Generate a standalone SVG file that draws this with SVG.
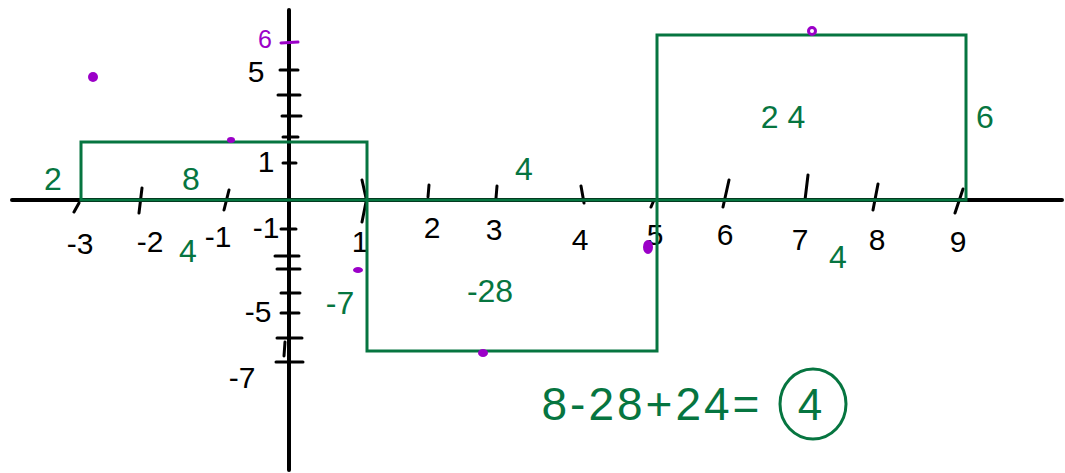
<svg xmlns="http://www.w3.org/2000/svg" width="1065" height="473" viewBox="0 0 1065 473">
<style>
.ax{stroke:#000;stroke-width:4;fill:none;stroke-linecap:round}
.tk{stroke:#000;stroke-width:3;fill:none;stroke-linecap:round}
.gr{stroke:#067540;stroke-width:3;fill:none}
.bl{font-family:"Liberation Sans",Arial,sans-serif;font-size:30px;fill:#000;text-anchor:middle}
.gt{font-family:"Liberation Sans",Arial,sans-serif;font-size:32px;fill:#067540;text-anchor:middle}
.pu{fill:#9b00c8}
</style>
<rect width="1065" height="473" fill="#fff"/>
<g id="axes">
<line class="ax" x1="12" y1="200" x2="1062" y2="200"/>
<line class="ax" x1="289" y1="10" x2="289" y2="470"/>
</g>
<g id="x-ticks">
<path class="tk" d="M79 203 L74 212 M142 188 L139 213 M229 190 L224 210 M362 180 L366 198 M366 202 L362 222 M429 185 L428 197 M497 186 L496 198 M581 186 L584 203 M654 200 L651 207 M729 180 L723 207 M808 175 L805 200 M878 184 L873 210 M963 189 L955 213"/>
</g>
<g id="y-ticks">
<path class="tk" d="M280 70 L298 70 M278 95 L300 95 M282 116 L301 116 M283 137 L298 137 M283 163 L296 163 M281 229 L296 229 M275 256 L299 256 M277 269 L300 269 M281 293 L300 293 M281 313 L299 313 M277 338 L302 338 M276 362 L303 362 M285 342 L284 356"/>
<path d="M281 43 L298 42" stroke="#9b00c8" stroke-width="3" stroke-linecap="round"/>
</g>
<g id="x-labels">
<text class="bl" x="80" y="254">-3</text>
<text class="bl" x="150" y="252">-2</text>
<text class="bl" x="218" y="247">-1</text>
<text class="bl" x="266" y="238" font-size="22">-1</text>
<text class="bl" x="360" y="252">1</text>
<text class="bl" x="432" y="238">2</text>
<text class="bl" x="494" y="240">3</text>
<text class="bl" x="580" y="250">4</text>
<text class="bl" x="655" y="245">5</text>
<text class="bl" x="725" y="245">6</text>
<text class="bl" x="800" y="250">7</text>
<text class="bl" x="877" y="250">8</text>
<text class="bl" x="958" y="252">9</text>
</g>
<g id="y-labels">
<text class="bl" x="256" y="82">5</text>
<text class="bl" x="266" y="172">1</text>
<text class="bl" x="258" y="322">-5</text>
<text class="bl" x="242" y="388">-7</text>
<text x="265" y="48" font-family="Liberation Sans,Arial,sans-serif" font-size="25" fill="#9b00c8" text-anchor="middle">6</text>
</g>
<g id="rect-8">
<rect class="gr" x="81" y="142" width="286" height="58"/>
<text class="gt" x="53" y="190">2</text>
<text class="gt" x="191" y="190">8</text>
<text class="gt" x="188" y="262">4</text>
</g>
<g id="rect-28">
<rect class="gr" x="367" y="200" width="290" height="151"/>
<text class="gt" x="340" y="314">-7</text>
<text class="gt" x="524" y="180">4</text>
<text class="gt" x="490" y="302">-28</text>
</g>
<g id="rect-24">
<rect class="gr" x="657" y="35" width="309" height="165"/>
<text class="gt" x="783" y="128">2 4</text>
<text class="gt" x="985" y="128">6</text>
<text class="gt" x="838" y="268">4</text>
</g>
<g id="equation">
<text x="652" y="420" font-family="Liberation Sans,Arial,sans-serif" font-size="46" letter-spacing="3" fill="#067540" text-anchor="middle">8-28+24=</text>
<text x="810" y="420" font-family="Liberation Sans,Arial,sans-serif" font-size="44" fill="#067540" text-anchor="middle">4</text>
<ellipse class="gr" cx="813" cy="404" rx="33" ry="35"/>
</g>
<g id="points">
<circle class="pu" cx="93" cy="77" r="5"/>
<ellipse class="pu" cx="231" cy="140" rx="4" ry="3"/>
<ellipse class="pu" cx="358" cy="270" rx="5" ry="3"/>
<ellipse class="pu" cx="648" cy="247" rx="5" ry="7"/>
<ellipse class="pu" cx="483" cy="353" rx="5" ry="4"/>
<circle cx="812" cy="31" r="3.5" fill="none" stroke="#9b00c8" stroke-width="3"/>
</g>
</svg>
